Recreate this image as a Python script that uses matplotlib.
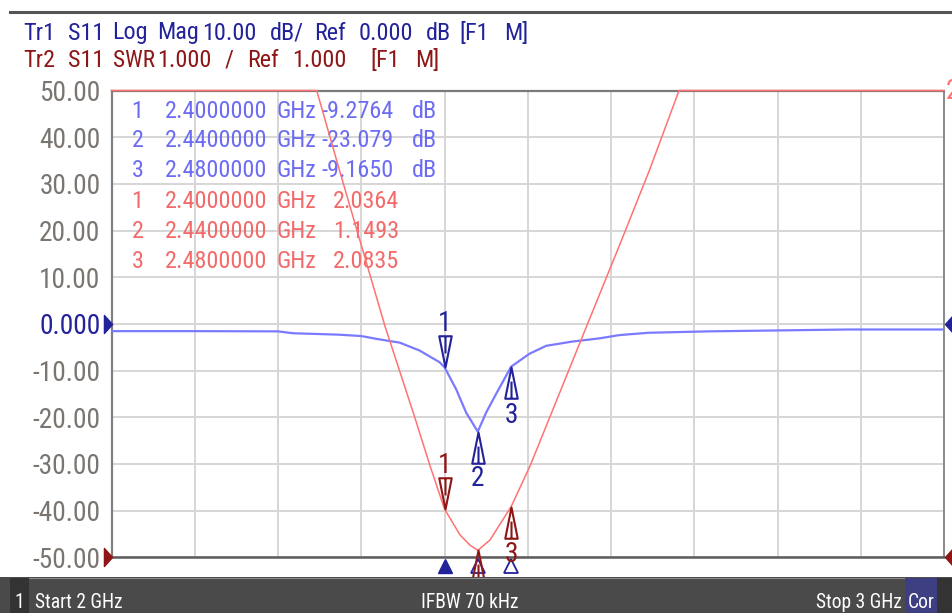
import os
import re
import numpy as np
import matplotlib
matplotlib.use("Agg")
import matplotlib.pyplot as plt
from matplotlib.path import Path
from matplotlib import font_manager as fm
from matplotlib.textpath import TextPath, text_to_path
from matplotlib.transforms import blended_transform_factory as blend
from matplotlib.patches import Rectangle
from matplotlib.lines import Line2D

# ---------------- data ----------------
start_ghz, stop_ghz = 2.0, 3.0
db_top, db_bottom = 50.0, -50.0
swr_ref, swr_per_div = 1.0, 1.0

freq_s11 = [2.000, 2.100, 2.200, 2.218, 2.272, 2.300, 2.318, 2.335, 2.346,
            2.370, 2.394, 2.400, 2.414, 2.426, 2.440, 2.450, 2.462, 2.480,
            2.502, 2.522, 2.553, 2.586, 2.610, 2.645, 2.717, 2.885, 3.000]
s11_db = [-1.55, -1.55, -1.6, -2.0, -2.3, -2.6, -3.2, -3.7, -4.0,
          -5.7, -8.2, -9.28, -14.0, -19.0, -23.08, -19.0, -15.0, -9.17,
          -6.4, -4.7, -3.8, -3.1, -2.4, -1.9, -1.6, -1.2, -1.2]

freq_swr = [2.000, 2.2465, 2.2745, 2.301, 2.3285, 2.3465, 2.3646, 2.3826,
            2.400, 2.4186, 2.4306, 2.440, 2.4546, 2.480, 2.5026, 2.5387,
            2.5748, 2.6108, 2.6468, 2.6817, 3.000]
swr = [11.0, 11.0, 9.25, 7.63, 5.95, 4.97, 3.98, 2.96,
       2.036, 1.48, 1.26, 1.149, 1.37, 2.084, 2.95, 4.54,
       6.13, 7.71, 9.32, 11.0, 11.0]

marker_ids = [1, 2, 3]
marker_freq = [2.40, 2.44, 2.48]
marker_s11 = [-9.2764, -23.079, -9.1650]
marker_swr = [2.0364, 1.1493, 2.0835]

ytick_vals = [50, 40, 30, 20, 10, 0, -10, -20, -30, -40, -50]
ytick_labels = ["50.00", "40.00", "30.00", "20.00", "10.00", "0.000",
                "-10.00", "-20.00", "-30.00", "-40.00", "-50.00"]

header1 = "Tr1 S11 Log Mag 10.00 dB/ Ref 0.000 dB [F1 M]"
header2 = "Tr2 S11 SWR 1.000 / Ref 1.000  [F1 M]"
status_ch = "1"
status_start = "Start 2 GHz"
status_ifbw = "IFBW 70 kHz"
status_stop = "Stop 3 GHz"
status_cor = "Cor"

# ---------------- font selection (a narrow face if one is installed) ----------------
def _wt(e):
    w = e.weight
    try:
        return int(w)
    except Exception:
        return {"normal": 400, "regular": 400, "book": 400, "roman": 400}.get(str(w).lower(), 700)

def _regular(e):
    return e.style == "normal" and 350 <= _wt(e) <= 450

def find_narrow():
    entries = fm.fontManager.ttflist
    for p in ["Liberation Sans Narrow", "Roboto Condensed", "Noto Sans Condensed",
              "Open Sans Condensed", "DejaVu Sans Condensed"]:
        for e in entries:
            if e.name == p and _regular(e):
                return e.fname
    bad = ("Mono", "Bold", "Italic", "Light", "Medium", "Thin", "Black", "Oblique", "Semi", "Extra")
    for key in ["Narrow", "-Condensed", "Condensed"]:
        for e in entries:
            base = os.path.basename(e.fname)
            if key in base and _regular(e) and not any(b in base for b in bad):
                return e.fname
    for e in entries:
        if str(e.stretch) in ("condensed", "semi-condensed") and _regular(e) and "Mono" not in e.name:
            return e.fname
    return None

_path = find_narrow()
BASE_FP = fm.FontProperties(fname=_path) if _path else fm.FontProperties(family="Liberation Sans")

def em_width(s):
    p = BASE_FP.copy()
    p.set_size(100)
    w, h, d = text_to_path.get_text_width_height_descent(s, p, ismath=False)
    return w / 100.0

_p100 = BASE_FP.copy()
_p100.set_size(100)
CAP = TextPath((0, 0), "H", size=100, prop=_p100).get_extents().height / 100.0

ADV = 11.2          # monospace cell width of the analyser font, px
em_px = min(20.0 / CAP, 9.1 * ADV / em_width("2.4000000"))
FS = em_px * 0.72
FS_BIG = min(20.0 / CAP, 68.0 / em_width("-50.00")) * 0.72
SB = min(16.0 / CAP, 88.0 / em_width(status_start)) * 0.72

def fp(size):
    p = BASE_FP.copy()
    p.set_size(size)
    return p

FP = fp(FS)
FPB = fp(FS_BIG)
FPS = fp(SB)

# ---------------- style ----------------
NAVY = "#22229a"
DKRED = "#8e1616"
BLUE_TR = "#7a7aff"
RED_TR = "#ff7272"
BLUE_TXT = "#6c6cf2"
RED_TXT = "#f26a6a"
TICK_C = "#7a7570"

W, H = 952, 613
fig = plt.figure(figsize=(W / 100, H / 100), dpi=100, facecolor="white")

def fx(x):
    return x / W

def fy(y):
    return 1 - y / H

L, R, T, B = 111.5, 944.0, 90.5, 557.3
ax = fig.add_axes([fx(L), fy(B), (R - L) / W, (B - T) / H])
ax.set_xlim(start_ghz, stop_ghz)
ax.set_ylim(db_bottom, db_top)
ax.set_xticks(np.linspace(start_ghz, stop_ghz, 11))
ax.set_yticks(ytick_vals)
ax.set_yticklabels(ytick_labels)
ax.tick_params(axis="both", length=0, labelbottom=False, pad=8.0)
for lab, v in zip(ax.get_yticklabels(), ytick_vals):
    lab.set_fontproperties(FPB)
    lab.set_color(NAVY if v == 0 else TICK_C)
ax.grid(True, color="#d6d6d6", lw=1.4)
ax.set_axisbelow(True)
ax.spines["left"].set_color("#808080")
ax.spines["left"].set_linewidth(1.6)
ax.spines["top"].set_color("#7a7a7a")
ax.spines["top"].set_linewidth(1.6)
ax.spines["bottom"].set_color("#5c5c5c")
ax.spines["bottom"].set_linewidth(1.8)
ax.spines["right"].set_color("#8a8a8a")
ax.spines["right"].set_linewidth(1.4)

ax2 = ax.twinx()
ax2.set_ylim(swr_ref, swr_ref + 10 * swr_per_div)
ax2.set_axis_off()

# traces
ax.plot(freq_s11, s11_db, color=BLUE_TR, lw=1.6, zorder=3)
ax2.plot(freq_swr, swr, color=RED_TR, lw=1.1, zorder=3, clip_on=False)

# marker shapes (apex at the data point)
def tri(d):
    verts = [(0, 0), (-0.2, d), (0.2, d), (0, 0), (0, d), (0, 0.45 * d)]
    codes = [Path.MOVETO, Path.LINETO, Path.LINETO, Path.CLOSEPOLY,
             Path.MOVETO, Path.LINETO]
    return Path(verts, codes)

body_dir = [1, -1, -1]
num_off_blue = [47, -44, -46]
num_off_red = [46, None, -45]

for i, f, v, d, off in zip(marker_ids, marker_freq, marker_s11, body_dir, num_off_blue):
    ax.plot([f], [v], marker=tri(d), ms=45, mfc="none", mec=NAVY, mew=1.5,
            ls="none", clip_on=False, zorder=5)
    ax.annotate(str(i), xy=(f, v), xytext=(0, off), textcoords="offset pixels",
                ha="center", va="center_baseline", fontproperties=FPB, color=NAVY,
                annotation_clip=False, zorder=6)

for i, f, v, d, off in zip(marker_ids, marker_freq, marker_swr, body_dir, num_off_red):
    ax2.plot([f], [v], marker=tri(d), ms=45, mfc="none", mec=DKRED, mew=1.5,
             ls="none", clip_on=False, zorder=5)
    if off is not None:
        ax2.annotate(str(i), xy=(f, v), xytext=(0, off), textcoords="offset pixels",
                     ha="center", va="center_baseline", fontproperties=FPB, color=DKRED,
                     annotation_clip=False, zorder=6)

# stimulus markers under the grid
tb = blend(ax.transData, ax.transAxes)
y_stim = (B - 566.0) / (B - T)
ax.plot([marker_freq[0]], [y_stim], marker="^", ms=9.5, color=NAVY, ls="none",
        transform=tb, clip_on=False, zorder=6)
ax.plot(marker_freq[1:], [y_stim] * 2, marker="^", ms=9.5, mfc="white", mec=NAVY,
        mew=1.3, ls="none", transform=tb, clip_on=False, zorder=6)

# reference-level arrows at the edges
ref_right = Path([(-0.45, -1), (0.45, 0), (-0.45, 1), (-0.45, -1)],
                 [Path.MOVETO, Path.LINETO, Path.LINETO, Path.CLOSEPOLY])
ref_left = Path([(0.45, -1), (-0.45, 0), (0.45, 1), (0.45, -1)],
                [Path.MOVETO, Path.LINETO, Path.LINETO, Path.CLOSEPOLY])
te = blend(ax.transAxes, ax.transData)
xl = (107.8 - L) / (R - L)
xr = (948.5 - L) / (R - L)
ax.plot([xl], [0], marker=ref_right, ms=13, color=NAVY, transform=te, clip_on=False, zorder=6)
ax.plot([xl], [db_bottom], marker=ref_right, ms=13, color=DKRED, transform=te, clip_on=False, zorder=6)
ax.plot([xr], [0], marker=ref_left, ms=13, color=NAVY, transform=te, clip_on=False, zorder=6)
ax.plot([xr], [db_bottom], marker=ref_left, ms=13, color=DKRED, transform=te, clip_on=False, zorder=6)

# ---------------- text ----------------
def mono(x0, ybase, s, color, target=fig, zorder=3):
    """Place each word at its monospace cell position; shrink a word only if it
    would run into the next word."""
    for m in re.finditer(r"\S+", s):
        tok = m.group()
        limit = (len(tok) + 1) * ADV - 3
        width = em_width(tok) * em_px
        size = FS if width <= limit else FS * limit / width
        target.text(fx(x0 + m.start() * ADV), fy(ybase), tok, color=color,
                    fontproperties=fp(size), ha="left", va="baseline",
                    transform=fig.transFigure, zorder=zorder)

mono(23, 39.5, header1, NAVY)
mono(23, 67.0, header2, DKRED)

rows_y = [117.5, 147, 177, 208, 238.5, 268.5]
for k, (i, f, v) in enumerate(zip(marker_ids, marker_freq, marker_s11)):
    s = f"{i}  {f:.7f} GHz {format(v, '#.5g'):>7} dB"
    mono(131.4, rows_y[k], s, BLUE_TXT, target=ax, zorder=2)
for k, (i, f, v) in enumerate(zip(marker_ids, marker_freq, marker_swr)):
    s = f"{i}  {f:.7f} GHz {format(v, '#.5g'):>7}"
    mono(131.4, rows_y[3 + k], s, RED_TXT, target=ax, zorder=2)

# trace-2 label at the right edge (partly cut by the screen edge, as in the original)
fig.text(fx(945.5), fy(99), "2", color=RED_TR, fontproperties=FPB,
         ha="left", va="baseline")

# top frame line
fig.add_artist(Line2D([fx(10), 1], [fy(11.5), fy(11.5)], color="#555555", lw=2.2,
                      transform=fig.transFigure))

# status bar
bar_top = 577
fig.add_artist(Rectangle((0, 0), 1, (H - bar_top) / H,
                         transform=fig.transFigure, facecolor="#4a4a4a",
                         edgecolor="none", zorder=10))
fig.add_artist(Line2D([fx(10), 1], [fy(bar_top + 0.5)] * 2, color="#8c8c8c", lw=0.8,
                      transform=fig.transFigure, zorder=11))
fig.add_artist(Rectangle((fx(10), 0), fx(29) - fx(10), (H - bar_top - 1) / H,
                         transform=fig.transFigure, facecolor="#333333",
                         edgecolor="none", zorder=11))
fig.add_artist(Rectangle((fx(905), 0), fx(937) - fx(905), (H - bar_top - 1) / H,
                         transform=fig.transFigure, facecolor="#3e3e82",
                         edgecolor="none", zorder=11))
fig.add_artist(Rectangle((fx(937), 0), 1 - fx(937), (H - bar_top - 1) / H,
                         transform=fig.transFigure, facecolor="#333333",
                         edgecolor="none", zorder=11))
ybar = fy(607.5)
for txt, xpos, ha in [(status_ch, 19.5, "center"), (status_start, 35, "left"),
                      (status_ifbw, 470, "center"), (status_stop, 902, "right"),
                      (status_cor, 921, "center")]:
    fig.text(fx(xpos), ybar, txt, color="white", fontproperties=FPS, ha=ha,
             va="baseline", zorder=12)

fig.savefig("out.png", dpi=100, facecolor="white")
